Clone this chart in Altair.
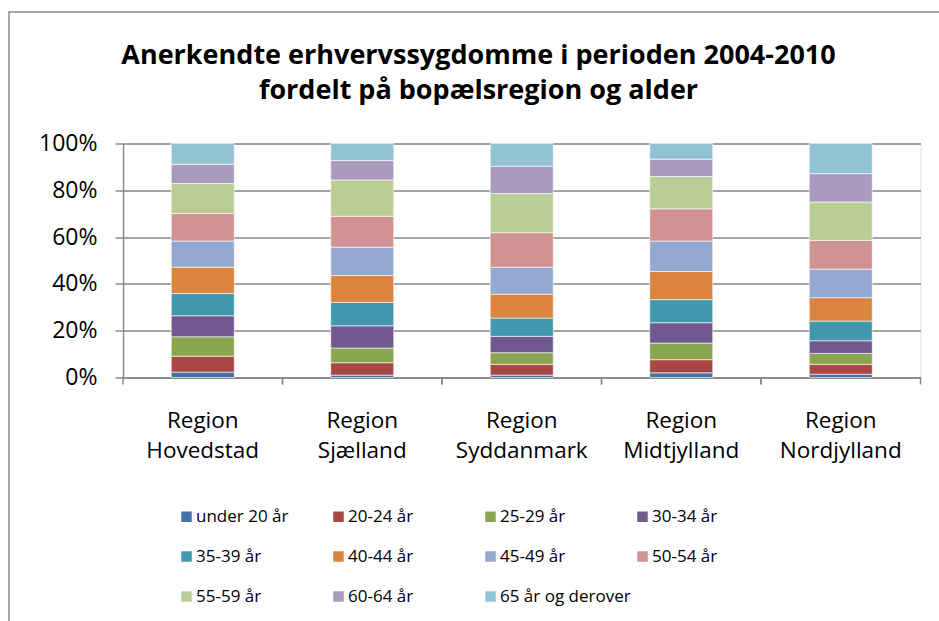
import altair as alt
import pandas as pd

# Regions along the x axis
regions = [
    "Region Hovedstad",
    "Region Sjælland",
    "Region Syddanmark",
    "Region Midtjylland",
    "Region Nordjylland",
]

# Age groups, bottom of the stack first
age_groups = [
    "under 20 år", "20-24 år", "25-29 år", "30-34 år", "35-39 år", "40-44 år",
    "45-49 år", "50-54 år", "55-59 år", "60-64 år", "65 år og derover",
]

# Share (%) of recognised occupational diseases per age group, by region
hovedstad = [2.3, 6.8, 8.3, 9.0, 9.5, 11.2, 11.2, 11.8, 12.8, 8.2, 8.9]
sjaelland = [1.0, 5.3, 6.3, 9.5, 10.0, 11.5, 12.1, 13.2, 15.5, 8.3, 7.3]
syddanmark = [1.0, 4.6, 5.0, 7.0, 7.8, 10.2, 11.5, 14.8, 16.7, 11.7, 9.7]
midtjylland = [2.0, 5.6, 7.1, 8.7, 9.9, 12.0, 13.0, 13.8, 13.8, 7.4, 6.7]
nordjylland = [1.4, 4.2, 4.7, 5.4, 8.4, 10.0, 12.2, 12.3, 16.4, 12.1, 12.9]

palette = [
    "#4572A7", "#AA4643", "#89A54E", "#71588F", "#4198AF", "#DB843D",
    "#93A9CF", "#D19392", "#B9CD96", "#A99BBD", "#92C3D4",
]

title_lines = [
    "Anerkendte erhvervssygdomme i perioden 2004-2010",
    "fordelt på bopælsregion og alder",
]

series = [hovedstad, sjaelland, syddanmark, midtjylland, nordjylland]
rows = []
for region, values in zip(regions, series):
    for i, (age, v) in enumerate(zip(age_groups, values)):
        rows.append({"region": region, "age": age, "idx": i, "share": v})
df = pd.DataFrame(rows)
region_df = pd.DataFrame({"region": regions})

GREY = "#868686"
FONT = "Open Sans"
W, H = 797.5, 234

x_scale = alt.Scale(domain=regions, paddingInner=0, paddingOuter=0)

bars = alt.Chart(df).mark_bar(
    width=alt.RelativeBandSize(0.395), stroke="white", strokeWidth=0.6
).encode(
    x=alt.X(
        "region:N",
        sort=regions,
        scale=x_scale,
        axis=alt.Axis(
            title=None,
            labelAngle=0,
            labelExpr="split(datum.label, ' ')",
            labelFont=FONT,
            labelFontSize=22.5,
            labelLineHeight=30,
            labelColor="black",
            labelPadding=32,
            labelBaseline="top",
            ticks=False,
            domainColor=GREY,
            domainWidth=1.4,
            grid=False,
        ),
    ),
    y=alt.Y(
        "share:Q",
        stack="normalize",
        scale=alt.Scale(domain=[0, 1]),
        axis=alt.Axis(
            title=None,
            format=".0%",
            values=[0, 0.2, 0.4, 0.6, 0.8, 1.0],
            labelFont=FONT,
            labelFontSize=23,
            labelColor="black",
            labelPadding=18,
            tickSize=8,
            tickColor=GREY,
            tickWidth=1.4,
            domainColor=GREY,
            domainWidth=1.4,
            gridColor=GREY,
            gridWidth=1.4,
        ),
    ),
    color=alt.Color(
        "age:N",
        sort=age_groups,
        scale=alt.Scale(domain=age_groups, range=palette),
        legend=alt.Legend(
            title=None,
            orient="none",
            direction="horizontal",
            legendX=55,
            legendY=364.5,
            columns=4,
            gridAlign="all",
            columnPadding=3,
            rowPadding=22,
            symbolType="square",
            symbolSize=110,
            symbolStrokeWidth=0,
            symbolOffset=0,
            labelOffset=1,
            labelFont=FONT,
            labelFontSize=17,
            labelColor="black",
            labelLimit=400,
        ),
    ),
    order=alt.Order("idx:Q", sort="ascending"),
)

# Category separator ticks below the x axis (band edges)
tick_left = alt.Chart(region_df).mark_rule(color=GREY, strokeWidth=1.4).encode(
    x=alt.X("region:N", sort=regions, scale=x_scale, bandPosition=0),
    y=alt.value(H),
    y2=alt.value(H + 7),
)
tick_right = alt.Chart(region_df).mark_rule(color=GREY, strokeWidth=1.4).encode(
    x=alt.X("region:N", sort=regions, scale=x_scale, bandPosition=1),
    y=alt.value(H),
    y2=alt.value(H + 7),
)

# Two-line chart heading
def heading(text, y):
    return alt.Chart(alt.Data(values=[{"t": text}])).mark_text(
        font=FONT, fontSize=27, fontWeight="bold", color="black",
        align="center", baseline="alphabetic",
    ).encode(text="t:N", x=alt.value(355.5), y=alt.value(y))

title1 = heading(title_lines[0], -80)
title2 = heading(title_lines[1], -45)

# Outer frame of the chart
frame = alt.Chart(alt.Data(values=[{}])).mark_rect(
    fillOpacity=0, stroke="#8a8a8a", strokeWidth=1.5
).encode(
    x=alt.value(-114),
    y=alt.value(-131.5),
    x2=alt.value(840),
    y2=alt.value(500),
)

chart = alt.layer(bars, tick_left, tick_right, title1, title2, frame).properties(
    width=W,
    height=H,
    autosize=alt.AutoSizeParams(type="none"),
    padding={"left": 123, "top": 143.5, "right": 18, "bottom": 243},
).configure_view(stroke=None).configure(background="white")

chart.save("out.html", embed_options={"renderer": "svg", "actions": False})
